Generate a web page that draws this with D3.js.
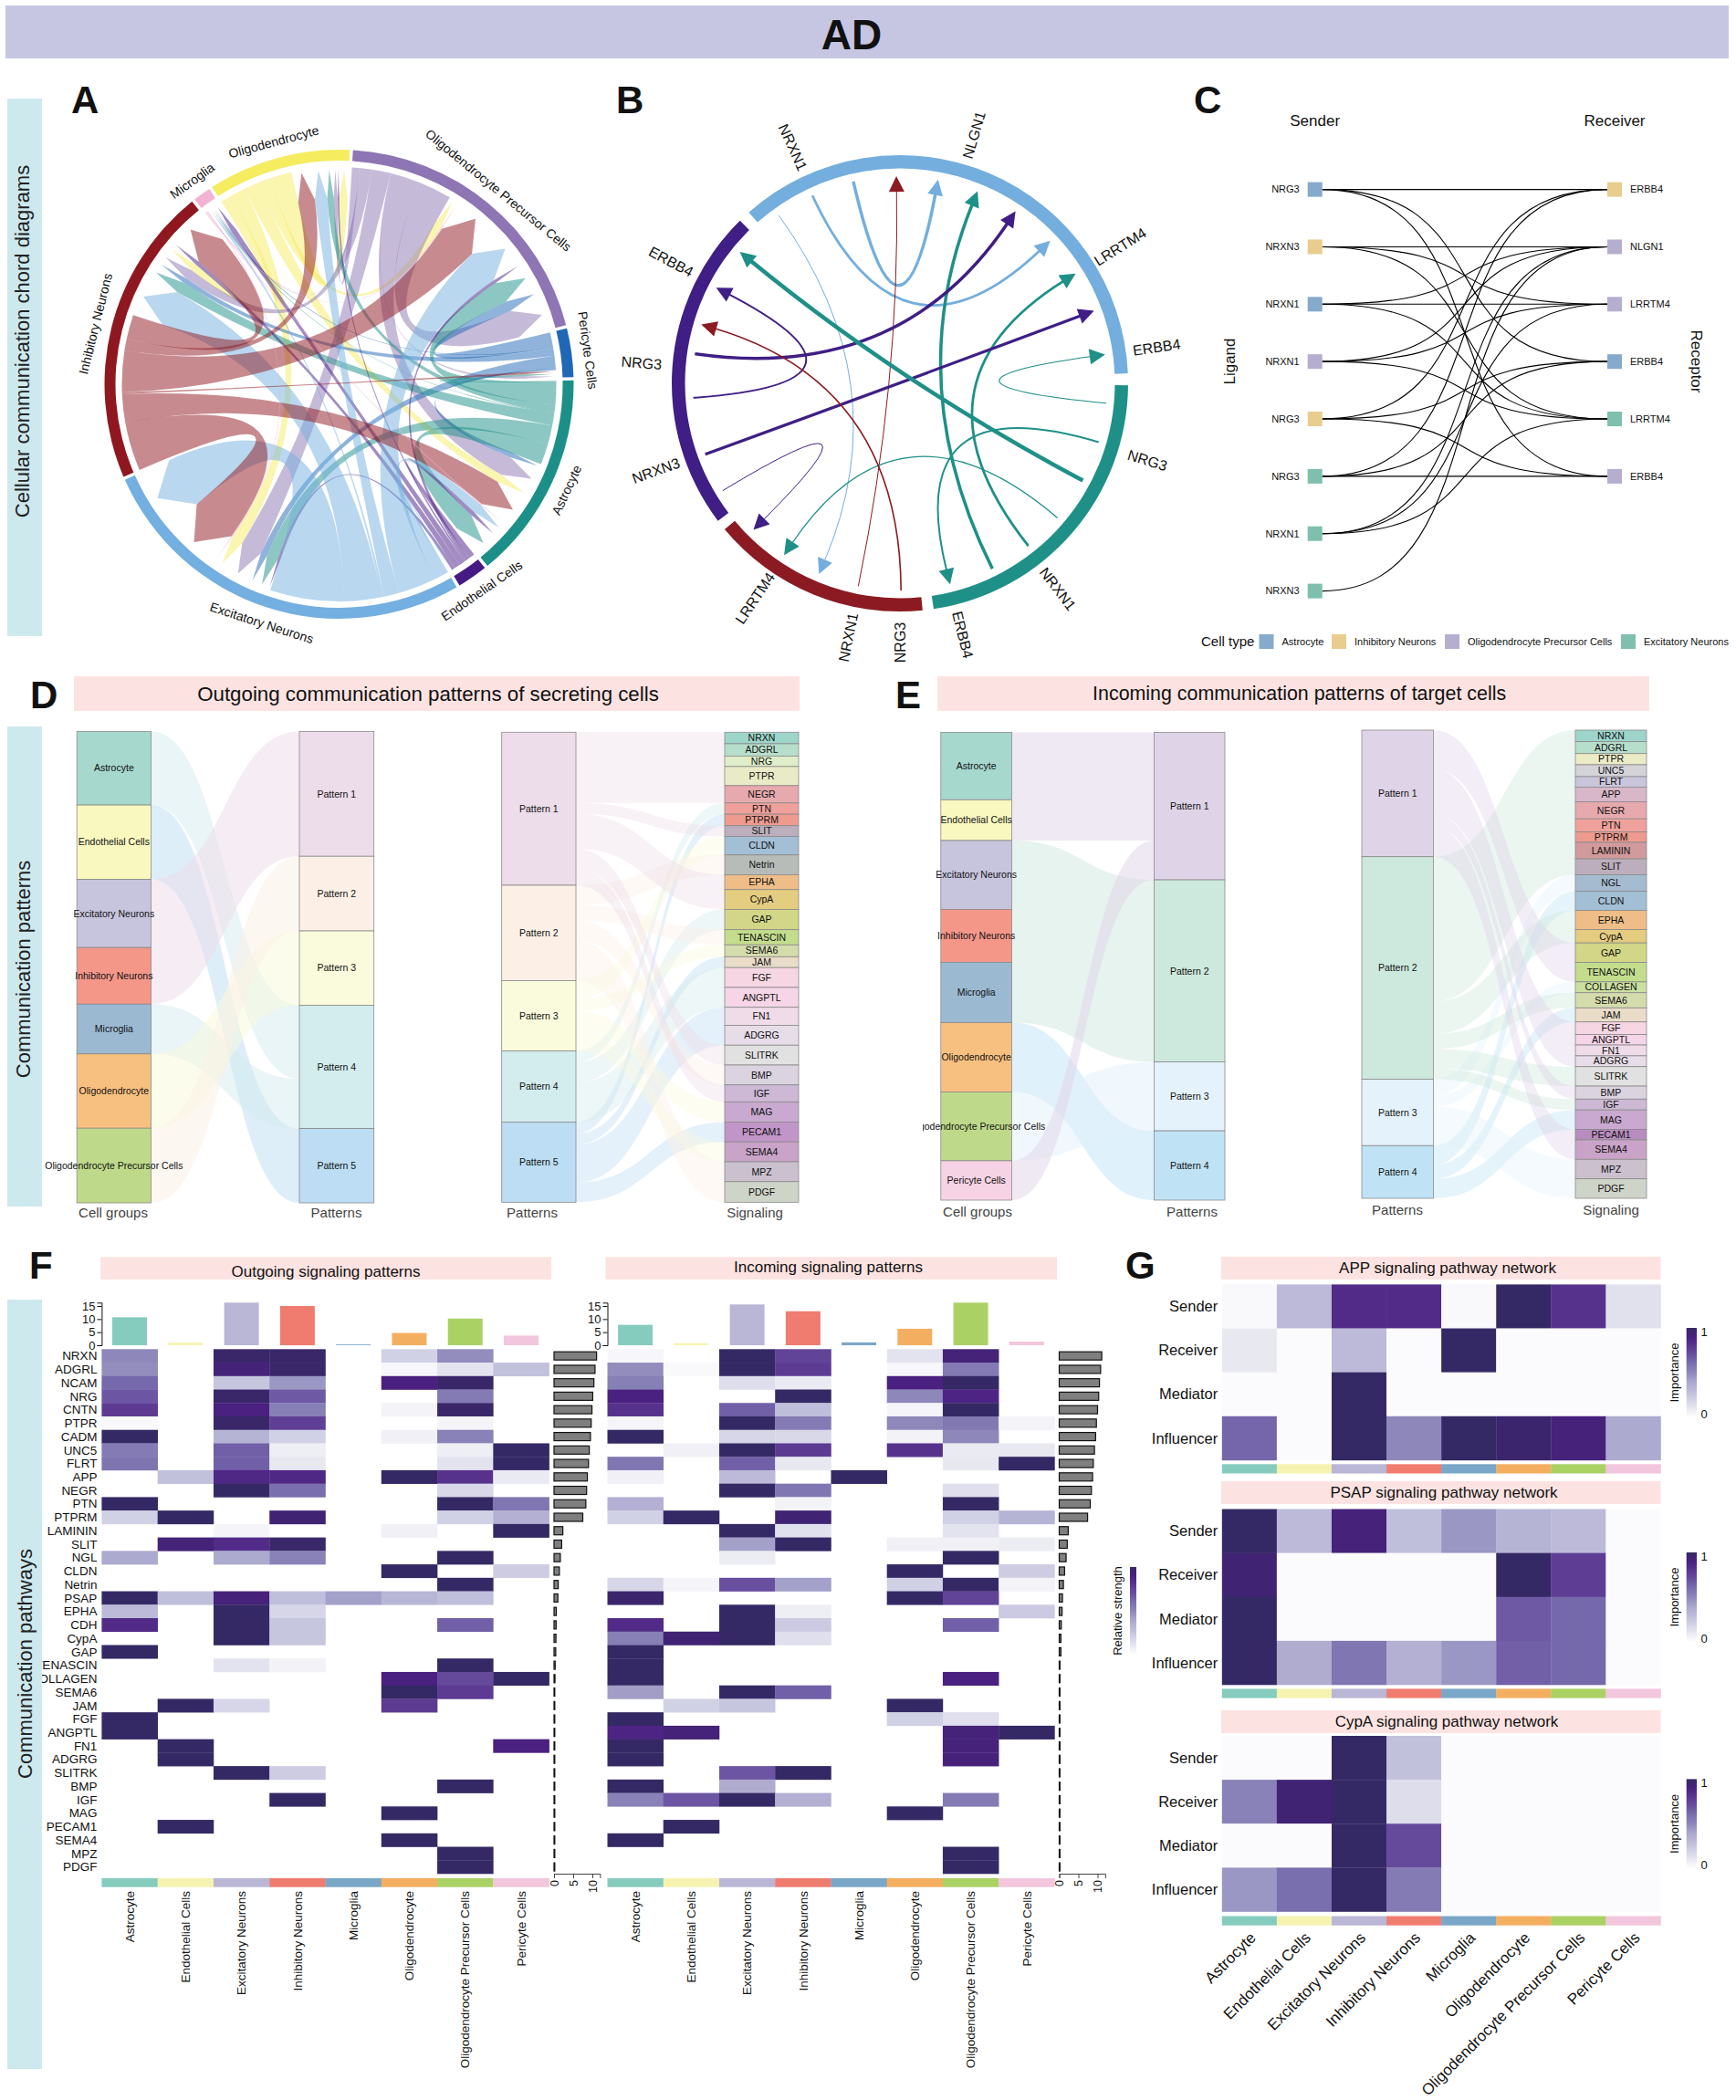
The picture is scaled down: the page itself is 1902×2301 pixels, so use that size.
<!DOCTYPE html>
<html><head><meta charset="utf-8">
<script src="https://cdn.jsdelivr.net/npm/d3@7/dist/d3.min.js"></script>
<style>
html,body{margin:0;padding:0;background:#fff}
svg{display:block}
text{font-family:"Liberation Sans",Arial,sans-serif;fill:#111}
</style></head><body>
<svg id="c" width="1902" height="2301" viewBox="0 0 1902 2301"></svg>
<script>
/* ---------- DATA ---------- */
const cellTypes=["Astrocyte","Endothelial Cells","Excitatory Neurons","Inhibitory Neurons","Microglia","Oligodendrocyte","Oligodendrocyte Precursor Cells","Pericyte Cells"];
const cellStrip=["#85ccbe","#f6f3b0","#b9b6d6","#ef7c6e","#7aa7c8","#f4ae60","#aad164","#f2c6dc"];

// Panel A: chord sectors (clockwise from OPC), and links [from,to,sent,received]
const aSectors=["P","C","A","N","E","I","M","O"];
const aNames={P:"Oligodendrocyte Precursor Cells",C:"Pericyte Cells",A:"Astrocyte",N:"Endothelial Cells",E:"Excitatory Neurons",I:"Inhibitory Neurons",M:"Microglia",O:"Oligodendrocyte"};
const aColors={P:"#8e75b3",C:"#2068b5",A:"#1c9088",N:"#451a85",E:"#73afe0",I:"#8f1820",M:"#f2b3d3",O:"#f5ec60"};
const aLinks=[
["O","I",3,2.2],["O","E",4,3.5],["O","A",4,2.5],["O","P",3,2.4],["O","O",6,2.5],
["P","O",2,1.2],["P","M",.3,.3],["P","I",3,3],["P","E",5,6.5],["P","C",.2,.7],["P","A",7.6,6],["P","P",9,8.5],
["C","P",4,3.2],["C","M",.2,.3],["C","I",2,1.5],["C","E",3.2,2],["C","A",.6,1.5],
["A","C",.3,.6],["A","P",6,6.5],["A","O",2,2],["A","M",.2,.3],["A","I",3.4,3.5],["A","E",5,3.5],["A","A",5.5,6],
["N","A",1.6,1.3],["N","P",1,1],["N","O",.5,.5],["N","M",1.6,1.6],["N","I",1.6,1.2],["N","E",.8,.8],
["E","N",.5,.4],["E","A",3.5,3],["E","P",10,10.5],["E","O",4,3.8],["E","M",.6,.6],["E","I",10,11],["E","E",19.7,16],
["I","E",13,14.5],["I","A",7.5,8.3],["I","C",.5,.7],["I","P",11,12],["I","O",3,5.2],["I","I",6.6,10],
["M","P",.3,.4],["M","A",.3,.4],["M","E",.3,.4],["M","I",.4,.8]];
const aIncomingOrder={O:["I","E","A","P","N","O"],P:["O","M","I","E","N","A","C","P"],C:["I","A","P"],A:["C","P","O","I","M","E","N","A"],N:["E"],E:["N","A","C","P","O","M","I","E"],I:["E","A","C","P","O","N","I"],M:["E","A","C","P","N"]};

// Panel B
const bSectors=[[-41.5,87.5,"#73aede"],[90.5,171.5,"#1e9088"],[174.3,230.2,"#8c1a22"],[232.9,315.5,"#3f1e85"]];
const bLabels=[["NRXN1",335.6],["NLGN1",16.6],["LRRTM4",58.2],["ERBB4",82],["NRG3",107.3],["NRXN1",142.5],["ERBB4",166],["NRG3",180],["NRXN1",191.5],["LRRTM4",214],["NRXN3",250.3],["NRG3",274.5],["ERBB4",298]];
const bFrom=[-35.8,-25,-13,191.6,153.5,278.2,141.7,250,95.5,118,106.5,130.5,266,179.7,238.8];
const bTo=[203,46.5,10.6,-1,22,33.9,58,69.5,82,309.4,166,214,297.5,286.5,225];
const bStrength=[1,2.8,3.5,1,3.5,3.5,2.8,3.2,1.2,4.5,2,1.3,2,1.6,1];
const bColorIdx=[0,0,0,2,1,3,1,3,1,1,1,1,3,2,3];

// Panel C
const cLigands=[["NRG3","Astrocyte"],["NRXN3","Inhibitory Neurons"],["NRXN1","Astrocyte"],["NRXN1","Oligodendrocyte Precursor Cells"],["NRG3","Inhibitory Neurons"],["NRG3","Excitatory Neurons"],["NRXN1","Excitatory Neurons"],["NRXN3","Excitatory Neurons"]];
const cReceptors=[["ERBB4","Inhibitory Neurons"],["NLGN1","Oligodendrocyte Precursor Cells"],["LRRTM4","Oligodendrocyte Precursor Cells"],["ERBB4","Astrocyte"],["LRRTM4","Excitatory Neurons"],["ERBB4","Oligodendrocyte Precursor Cells"]];
const cPairs=[[0,0],[0,3],[0,5],[1,1],[1,2],[1,4],[2,1],[2,2],[2,4],[3,1],[3,2],[3,4],[4,0],[4,3],[4,5],[5,0],[5,3],[5,5],[6,1],[6,2],[6,4],[7,1]];
const cLegend=["Astrocyte","Inhibitory Neurons","Oligodendrocyte Precursor Cells","Excitatory Neurons"];
const cLegendColors=["#86aacb","#e8cd8f","#b6aecf","#7fbfae"];

// Panels D / E
const dCells=["Astrocyte","Endothelial Cells","Excitatory Neurons","Inhibitory Neurons","Microglia","Oligodendrocyte","Oligodendrocyte Precursor Cells"];
const dCellValues=[204,206,189,157,138,206,207];
const dCellPattern=[4,5,1,1,4,3,2];
const dCellColors=["#a6d8ce","#f9f8bf","#c7c4dd","#f49789","#9bbad2","#f8c080","#bfd98a"];
const dPatternColors=["#eddce9","#fcf0e6","#fafadc","#d3ecee","#bcddf3"];
const dSignals=["NRXN","ADGRL","NRG","PTPR","NEGR","PTN","PTPRM","SLIT","CLDN","Netrin","EPHA","CypA","GAP","TENASCIN","SEMA6","JAM","FGF","ANGPTL","FN1","ADGRG","SLITRK","BMP","IGF","MAG","PECAM1","SEMA4","MPZ","PDGF"];
const dSignalValues=[32,34,29,53,48,31,32,30,51,55,41,55,56,42,33,30,55,55,50,55,55,55,47,56,55,55,55,57];
const dSignalPattern=[1,1,1,1,1,4,5,1,3,2,1,1,4,2,3,5,4,4,5,5,1,2,1,3,5,3,2,2];
const dSignalColors=["#9ed5cb","#b6dfcb","#dfeec9","#e9ebc6","#e6a9ad","#f0a19c","#ee9a8e","#bcaebd","#a3bfd5","#b7bcb8","#efbe88","#e4cc80","#d2d686","#c3dd8d","#d5dcac","#e9dcc8","#f6d6e2","#f5d5e7","#f0dbe8","#e7dde8","#e1e1e1","#dcd3e0","#cdb9d5","#c9a9cf","#c195c8","#c9a3c8","#cbc0ce","#cfd4c8"];
const eCells=cellTypes;
const eCellValues=[187,113,191,147,167,192,191,109];
const eCellPattern=[1,1,2,2,2,4,3,1];
const eCellColors=["#a6d8ce","#f9f8bf","#c7c4dd","#f49789","#9bbad2","#f8c080","#bfd98a","#f6d3e4"];
const ePatternColors=["#dfd3e8","#cde8dd","#e4f2fb","#bfe3f5"];
const eSignals=["NRXN","ADGRL","PTPR","UNC5","FLRT","APP","NEGR","PTN","PTPRM","LAMININ","SLIT","NGL","CLDN","EPHA","CypA","GAP","TENASCIN","COLLAGEN","SEMA6","JAM","FGF","ANGPTL","FN1","ADGRG","SLITRK","BMP","IGF","MAG","PECAM1","SEMA4","MPZ","PDGF"];
const eSignalValues=[32,33,31,33,29,41,47,36,29,46,44,46,53,53,37,54,54,30,42,39,35,29,30,30,54,36,30,54,29,54,54,54];
const eSignalPattern=[2,2,2,2,2,2,2,2,2,2,2,3,4,2,2,1,1,3,2,4,1,1,1,1,2,1,2,4,1,1,3,3];
const eSignalColors=["#9ed5cb","#b6dfcb","#ebebc6","#d3d3d8","#c9c6dc","#d8b7c8","#e6a9ad","#f0a19c","#ee9a8e","#d19a9c","#bcaebd","#a5bbd0","#a3bfd5","#efbe88","#e4cc80","#d2d686","#c3dd8d","#cbe0a0","#d5dcac","#e9dcc8","#f6d6e2","#f5d5e7","#f0dbe8","#e7dde8","#e1e1e1","#dcd3e0","#cdb9d5","#c9a9cf","#b98cc0","#c9a3c8","#cbc0ce","#cfd4c8"];

// Panel F
const fPathways=["NRXN","ADGRL","NCAM","NRG","CNTN","PTPR","CADM","UNC5","FLRT","APP","NEGR","PTN","PTPRM","LAMININ","SLIT","NGL","CLDN","Netrin","PSAP","EPHA","CDH","CypA","GAP","TENASCIN","COLLAGEN","SEMA6","JAM","FGF","ANGPTL","FN1","ADGRG","SLITRK","BMP","IGF","MAG","PECAM1","SEMA4","MPZ","PDGF"];
const fOutgoing=[
[.5,0,.98,.98,0,.2,.48,0],[.48,0,.93,.98,0,.02,.12,.27],[.62,0,.25,.45,0,.9,.98,0],[.68,0,.98,.67,0,0,.55,0],[.78,0,.9,.53,0,.04,.98,0],
[.01,0,.98,.76,0,0,.03,0],[1,0,.33,.2,0,.06,.52,0],[.55,0,.65,.07,0,0,.07,1],[.58,0,.65,.1,0,0,.12,1],[0,.27,.87,.87,0,1,.82,.09],
[0,0,1,.6,0,0,.17,0],[1,0,0,0,0,0,1,.57],[.2,1,0,.95,0,0,.2,.35],[0,0,.03,0,0,.06,0,1],[0,.93,.85,.98,0,0,0,0],
[.38,0,.38,.52,0,0,1,0],[0,0,0,0,0,1,0,.22],[0,0,0,0,0,0,1,0],[1,.28,.92,.28,.42,.32,.28,0],[.3,0,1,.18,0,0,0,0],
[.85,0,1,.25,0,0,.65,0],[0,0,1,.25,0,0,0,0],[1,0,0,0,0,0,0,0],[0,0,.12,.05,0,0,1,0],[0,0,0,0,0,.9,.72,1],
[0,0,0,0,0,1,.78,0],[0,1,.18,0,0,.78,0,0],[1,0,0,0,0,0,0,0],[1,0,0,0,0,0,0,0],[0,1,0,0,0,0,0,.9],
[0,1,0,0,0,0,0,0],[0,0,1,.22,0,0,0,0],[0,0,0,0,0,0,1,0],[0,0,0,1,0,0,0,0],[0,0,0,0,0,1,0,0],
[0,1,0,0,0,0,0,0],[0,0,0,0,0,1,0,0],[0,0,0,0,0,0,1,0],[0,0,0,0,0,0,1,0]];
const fIncoming=[
[.02,0,1,.75,0,.12,.93,0],[.48,.01,1,.78,0,.02,.55,0],[.53,0,.15,.09,0,.9,1,0],[.9,0,0,1,0,.5,.88,0],[.82,0,.65,.28,0,.03,1,0],
[.03,0,1,.55,0,.5,.56,.04],[1,0,.18,.17,0,.05,.5,0],[0,.06,1,.78,0,.82,.09,.1],[.57,0,.65,.1,0,0,.1,1],[.06,0,.3,0,1,0,0,0],
[0,0,1,.57,0,0,.14,0],[.35,0,0,.05,0,0,1,0],[.2,1,0,.95,0,0,.2,.33],[0,0,1,.13,0,0,.12,0],[0,0,.42,1,0,.06,.06,.08],
[0,0,.08,0,0,0,1,0],[0,0,0,0,0,1,0,.22],[.18,.03,.7,.42,0,.2,1,.04],[.97,0,0,0,0,1,.75,0],[0,0,1,.07,0,0,0,.23],
[.85,0,1,.23,0,0,.65,0],[.53,.95,1,.14,0,0,0,0],[1,0,0,0,0,0,0,0],[1,0,0,0,0,0,0,0],[1,0,0,0,0,0,.9,0],
[.43,0,1,.65,0,0,0,0],[0,.2,.25,0,0,1,0,0],[1,0,0,0,0,.2,.14,0],[.88,.93,0,0,0,0,.93,1],[1,0,0,0,0,0,.92,0],
[1,0,0,0,0,0,.92,0],[0,0,.68,1,0,0,0,0],[1,0,.37,0,0,0,0,0],[.52,.68,1,.35,0,0,.55,0],[0,0,0,0,0,1,0,0],
[0,1,0,0,0,0,0,0],[1,0,0,0,0,0,0,0],[0,0,0,0,0,0,1,0],[0,0,0,0,0,0,1,0]];
const fOutTop=[10.7,1,16.3,15,.3,4.7,10.2,3.7];
const fInTop=[7.8,.8,15.6,13,1.1,6.3,16.3,1.4];
const fOutRight=[11.1,10.7,10.4,10.1,9.9,9.7,9.5,9.2,9,8.7,8.5,8.3,7.5,2.3,2,1.65,1.4,1.1,1,.6,.55,.5,.45,.3,.25,.2,.2,.2,.2,.2,.2,.2,.2,.2,.2,.2,.2,.2,.2];
const fInRight=[11.1,10.8,10.5,10.3,10,9.7,9.5,9.2,8.9,8.7,8.4,8.1,7.4,2.35,2.1,1.8,1.4,1.1,.85,.75,.55,.45,.45,.2,.2,.2,.2,.2,.2,.2,.2,.2,.2,.2,.2,.2,.2,.2,.2];

// Panel G
const gRoles=["Sender","Receiver","Mediator","Influencer"];
const gApp=[[.01,.3,.85,.85,.01,1,.82,.13],[.1,0,.3,0,1,0,0,0],[0,0,1,0,0,0,0,0],[.63,0,1,.5,1,.97,.92,.38]];
const gPsap=[[1,.3,.92,.28,.45,.33,.3,0],[.95,0,0,0,0,1,.77,0],[1,0,0,0,0,.67,.62,0],[1,.37,.57,.35,.45,.65,.62,0]];
const gCypa=[[0,0,1,.27,0,0,0,0],[.52,.95,1,.15,0,0,0,0],[0,0,1,.72,0,0,0,0],[.45,.6,1,.55,0,0,0,0]];

const heatStops=[0,.1,.2,.3,.4,.5,.6,.7,.8,.9,1];
const heatColors=["#fbfbfd","#e8e8f1","#d1d1e6","#bcbad8","#a9a6cd","#8d87ba","#7a6fae","#684f9f","#5a3690","#4a2080","#352965"];

/* ---------- HELPERS ---------- */
const svg=d3.select("#c");
const defs=svg.append("defs");
const heat=d3.scaleLinear().domain(heatStops).range(heatColors);
const rad=d=>(d-90)*Math.PI/180;
const pol=(r,d)=>[r*Math.cos(rad(d)),r*Math.sin(rad(d))];
function label(g,x,y,t,o={}){
  const e=g.append("text").attr("x",x).attr("y",y).text(t)
    .attr("font-size",o.size||12).attr("text-anchor",o.anchor||"middle");
  if(o.mid!==false) e.attr("dy",".35em");
  if(o.weight) e.attr("font-weight",o.weight);
  if(o.fill) e.style("fill",o.fill);
  if(o.rot!==undefined) e.attr("transform",`rotate(${o.rot} ${x} ${y})`);
  return e;
}
const ROOT=svg.append("g");

/* header */
ROOT.append("rect").attr("x",6).attr("y",6).attr("width",1888).attr("height",58).attr("fill","#c6c6e3");
label(ROOT,933,38,"AD",{size:46,weight:"bold"});
[["A",78,124],["B",675,124],["C",1308,124],["D",33,776],["E",981,776],["F",32,1401],["G",1233,1401]].forEach(d=>
  label(ROOT,d[1],d[2],d[0],{size:42,weight:"bold",anchor:"start",mid:false}));

/* ---------- Panel A ---------- */
(function(){
  const g=ROOT.append("g").attr("transform","translate(371.5,421)");
  const gap=.8;
  const out={},inc={};
  aSectors.forEach(s=>{out[s]=aLinks.filter(l=>l[0]===s);inc[s]=(aIncomingOrder[s]||[]).map(f=>aLinks.find(l=>l[0]===f&&l[1]===s)).filter(Boolean);});
  const sizes=aSectors.map(s=>d3.sum(out[s],l=>l[2])+d3.sum(inc[s],l=>l[3]));
  const total=d3.sum(sizes)+gap*aSectors.length;
  const ang=d3.scaleLinear().domain([0,total]).range([3.4,363.4]);
  let pos=0; const S=new Map(),T=new Map(),sect={};
  aSectors.forEach((s,i)=>{
    const a0=pos;
    out[s].forEach(l=>{S.set(l,[ang(pos),ang(pos+l[2])]);pos+=l[2];});
    inc[s].forEach(l=>{T.set(l,[ang(pos),ang(pos+l[3])]);pos+=l[3];});
    sect[s]=[ang(a0),ang(pos)];
    pos+=gap;
  });
  const Rs=238,Rc=204,Rt=235;
  aLinks.forEach(l=>{
    if(!T.has(l))return;
    const [a0,a1]=S.get(l),[b0,b1]=T.get(l);
    const p=d3.path();
    p.moveTo(...pol(Rs,a0));
    p.arc(0,0,Rs,rad(a0),rad(a1));
    p.quadraticCurveTo(0,0,...pol(Rc,b0));
    p.lineTo(...pol(Rt,(b0+b1)/2));
    p.lineTo(...pol(Rc,b1));
    p.quadraticCurveTo(0,0,...pol(Rs,a0));
    p.closePath();
    g.append("path").attr("d",p.toString()).attr("fill",aColors[l[0]]).attr("fill-opacity",.5);
  });
  const arc=d3.arc().innerRadius(245).outerRadius(257);
  aSectors.forEach((s,i)=>{
    const [a0,a1]=sect[s];
    g.append("path").attr("d",arc({startAngle:a0*Math.PI/180,endAngle:a1*Math.PI/180})).attr("fill",aColors[s]);
    const mid=(a0+a1)/2, m=((mid%360)+360)%360, top=m<90||m>270;
    const [x,y]=pol(275,mid);
    label(g,x,y,aNames[s],{size:14,rot:top?m:m-180});
  });
})();

/* ---------- Panel B ---------- */
(function(){
  const g=ROOT.append("g").attr("transform","translate(986,420)");
  const arc=d3.arc().innerRadius(235.5).outerRadius(250);
  bSectors.forEach(s=>g.append("path").attr("d",arc({startAngle:s[0]*Math.PI/180,endAngle:s[1]*Math.PI/180})).attr("fill",s[2]));
  bFrom.forEach((f,i)=>{
    const t=bTo[i],c=bSectors[bColorIdx[i]][2],Rb=227,hl=17,hw=8.5;
    const p=d3.path();
    p.moveTo(...pol(Rb,f));
    p.quadraticCurveTo(0,0,...pol(Rb-hl+2,t));
    g.append("path").attr("d",p.toString()).attr("fill","none").attr("stroke",c).attr("stroke-width",bStrength[i]);
    const tip=pol(Rb,t),bc=pol(Rb-hl,t),th=rad(t)+Math.PI/2;
    const h=d3.path();
    h.moveTo(...tip);
    h.lineTo(bc[0]+hw*Math.cos(th),bc[1]+hw*Math.sin(th));
    h.lineTo(bc[0]-hw*Math.cos(th),bc[1]-hw*Math.sin(th));
    h.closePath();
    g.append("path").attr("d",h.toString()).attr("fill",c);
  });
  bLabels.forEach(l=>{
    const [x,y]=pol(284,l[1]),m=((l[1]%360)+360)%360;
    const rot=(m>=180)?m-270:m-90;
    label(g,x,y,l[0],{size:16,rot:rot});
  });
})();

/* ---------- Panel C ---------- */
(function(){
  const g=ROOT.append("g");
  const y=d3.scaleLinear().domain([0,7]).range([207.6,647.6]);
  const xS=1440.7,xR=1769,sq=16;
  const col=d3.scaleOrdinal().domain(cLegend).range(cLegendColors);
  const sig=(x0,y0,x1,y1)=>{const p=d3.path(),w=x1-x0,c=.65;p.moveTo(x0,y0);p.bezierCurveTo(x0+c*w,y0,x1-c*w,y1,x1,y1);return p.toString();};
  cPairs.forEach(p=>g.append("path").attr("d",sig(xS+sq/2,y(p[0]),xR-sq/2,y(p[1]))).attr("fill","none").attr("stroke","#000").attr("stroke-width",1.1));
  cLigands.forEach((d,i)=>{
    g.append("rect").attr("x",xS-sq/2).attr("y",y(i)-sq/2).attr("width",sq).attr("height",sq).attr("fill",col(d[1]));
    label(g,xS-17,y(i),d[0],{size:11,anchor:"end"});
  });
  cReceptors.forEach((d,i)=>{
    g.append("rect").attr("x",xR-sq/2).attr("y",y(i)-sq/2).attr("width",sq).attr("height",sq).attr("fill",col(d[1]));
    label(g,xR+17,y(i),d[0],{size:11,anchor:"start"});
  });
  label(g,xS,132,"Sender",{size:17});label(g,xR,132,"Receiver",{size:17});
  label(g,1346.7,396,"Ligand",{size:17,rot:-90});label(g,1859,396,"Receptor",{size:17,rot:90});
  label(g,1316,703,"Cell type",{size:15,anchor:"start"});
  const legX=[1387.5,1467,1591,1784];
  cLegend.forEach((t,i)=>{
    g.append("rect").attr("x",legX[i]-8).attr("y",695).attr("width",16).attr("height",16).attr("fill",cLegendColors[i]);
    label(g,legX[i]+17,703,t,{size:11,anchor:"start"});
  });
})();

/* ---------- Panels D / E ---------- */
function ribbon(g,x0,y00,y01,x1,y10,y11,fill,op){
  const m=(x0+x1)/2,p=d3.path();
  p.moveTo(x0,y00);p.bezierCurveTo(m,y00,m,y10,x1,y10);
  p.lineTo(x1,y11);p.bezierCurveTo(m,y11,m,y01,x0,y01);p.closePath();
  g.append("path").attr("d",p.toString()).attr("fill",fill).attr("fill-opacity",op);
}
let clipN=0;
function alluvial(g,o){
  const nG=o.groupColors.length;
  const total=d3.sum(o.values);
  const yIt=d3.scaleLinear().domain([0,total]).range(o.itemY);
  const yGr=d3.scaleLinear().domain([0,total]).range(o.groupY);
  const grSum=d3.range(nG).map(k=>d3.sum(o.values.filter((v,i)=>o.groupOf[i]===k+1)));
  const grStart={};let c=0;d3.range(nG).forEach(k=>{grStart[k]=c;c+=grSum[k];});
  const cursor={...grStart};
  let a=0;const itPos=[];
  o.values.forEach(v=>{itPos.push([a,a+v]);a+=v;});
  o.values.forEach((v,i)=>{
    const k=o.groupOf[i]-1,b=cursor[k];cursor[k]+=v;
    const col=o.groupColors[k];
    if(o.itemSide==="left") ribbon(g,o.itemX[1],yIt(itPos[i][0]),yIt(itPos[i][1]),o.groupX[0],yGr(b),yGr(b+v),col,o.op);
    else ribbon(g,o.groupX[1],yGr(b),yGr(b+v),o.itemX[0],yIt(itPos[i][0]),yIt(itPos[i][1]),col,o.op);
  });
  o.values.forEach((v,i)=>{
    g.append("rect").attr("x",o.itemX[0]).attr("y",yIt(itPos[i][0])).attr("width",o.itemX[1]-o.itemX[0]).attr("height",yIt(itPos[i][1])-yIt(itPos[i][0]))
     .attr("fill",o.itemColors[i]).attr("stroke","#8a8a8a").attr("stroke-width",.8);
  });
  d3.range(nG).forEach(k=>{
    g.append("rect").attr("x",o.groupX[0]).attr("y",yGr(grStart[k])).attr("width",o.groupX[1]-o.groupX[0]).attr("height",yGr(grStart[k]+grSum[k])-yGr(grStart[k]))
     .attr("fill",o.groupColors[k]).attr("stroke","#8a8a8a").attr("stroke-width",.8);
    label(g,(o.groupX[0]+o.groupX[1])/2,yGr(grStart[k]+grSum[k]/2),"Pattern "+(k+1),{size:10.5});
  });
  let textG=g;
  if(o.clipLeft!==undefined){
    const id="clip"+(clipN++);
    defs.append("clipPath").attr("id",id).append("rect").attr("x",o.clipLeft).attr("y",0).attr("width",1902-o.clipLeft).attr("height",2301);
    textG=g.append("g").attr("clip-path",`url(#${id})`);
  }
  o.values.forEach((v,i)=>{
    label(textG,(o.itemX[0]+o.itemX[1])/2,(yIt(itPos[i][0])+yIt(itPos[i][1]))/2,o.items[i],{size:10.5});
  });
}
(function(){
  const g=ROOT.append("g");
  [[81,741,795,38],[1027,741,780,38]].forEach(b=>g.append("rect").attr("x",b[0]).attr("y",b[1]).attr("width",b[2]).attr("height",b[3]).attr("fill","#fce3e1"));
  label(g,469,760,"Outgoing communication patterns of secreting cells",{size:22.3});
  label(g,1423.6,760,"Incoming communication patterns of target cells",{size:21.4});
  alluvial(g,{items:dCells,values:dCellValues,groupOf:dCellPattern,itemColors:dCellColors,groupColors:dPatternColors,itemSide:"left",itemX:[84.2,165.5],groupX:[328,409.7],itemY:[801.5,1318],groupY:[801.5,1318],op:.5});
  alluvial(g,{items:dSignals,values:dSignalValues,groupOf:dSignalPattern,itemColors:dSignalColors,groupColors:dPatternColors,itemSide:"right",itemX:[794,875],groupX:[549.7,631],itemY:[802.3,1317.3],groupY:[802.3,1317.3],op:.4});
  alluvial(g,{items:eCells,values:eCellValues,groupOf:eCellPattern,itemColors:eCellColors,groupColors:ePatternColors,itemSide:"left",itemX:[1030.8,1108.5],groupX:[1264.5,1342],itemY:[802.4,1315],groupY:[802.4,1315],op:.5,clipLeft:1011});
  alluvial(g,{items:eSignals,values:eSignalValues,groupOf:eSignalPattern,itemColors:eSignalColors,groupColors:ePatternColors,itemSide:"right",itemX:[1726,1804],groupX:[1492,1570.5],itemY:[800,1313],groupY:[800,1313],op:.4});
  [["Cell groups",124,1329],["Patterns",368.5,1329],["Patterns",583,1329],["Signaling",827,1329],["Cell groups",1071,1328],["Patterns",1306,1328],["Patterns",1531,1326],["Signaling",1765,1326]]
    .forEach(d=>label(g,d[1],d[2],d[0],{size:15,fill:"#444"}));
})();

/* ---------- Panel F ---------- */
function heatPanel(o){
  const g=ROOT.append("g");
  const x=d3.scaleBand().domain(cellTypes).range(o.x);
  const y=d3.scaleBand().domain(fPathways).range([1478.3,2053]);
  o.matrix.forEach((row,r)=>row.forEach((v,c)=>{ if(v>0)
    g.append("rect").attr("x",x(cellTypes[c])).attr("y",y(fPathways[r])).attr("width",x.bandwidth()+.3).attr("height",y.bandwidth()+.3).attr("fill",heat(v));
  }));
  const yT=d3.scaleLinear().domain([0,16.3]).range([1474,1427.3]);
  o.top.forEach((v,c)=>g.append("rect").attr("x",x(cellTypes[c])+x.bandwidth()/2-19).attr("y",yT(v)).attr("width",38).attr("height",1474-yT(v)).attr("fill",cellStrip[c]));
  const ax=g.append("g").attr("transform",`translate(${o.x[0]},0)`).call(d3.axisLeft(yT).tickValues([0,5,10,15]).tickSize(5).tickPadding(2));
  ax.selectAll("text").attr("font-size",13).style("font-family","Liberation Sans");
  ax.selectAll("path,line").attr("stroke","#111");
  if(o.labels) fPathways.forEach(p=>label(g,o.x[0]-5,y(p)+y.bandwidth()/2,p,{size:13.5,anchor:"end"}));
  cellTypes.forEach((t,c)=>{
    g.append("rect").attr("x",x(t)).attr("y",2058).attr("width",x.bandwidth()+.3).attr("height",9.7).attr("fill",cellStrip[c]);
    label(g,x(t)+x.bandwidth()/2,2072,t,{size:13.5,anchor:"end",rot:-90});
  });
  const xR=d3.scaleLinear().domain([0,12]).range([o.rx,o.rx+50.4]);
  o.right.forEach((v,r)=>{
    const bh=9;
    g.append("rect").attr("x",xR(0)).attr("y",y(fPathways[r])+y.bandwidth()/2-bh/2).attr("width",xR(v)-xR(0)).attr("height",bh).attr("fill","#7f7f7f").attr("stroke","#111").attr("stroke-width",1.2);
  });
  const a2=g.append("g").attr("transform","translate(0,2053)").call(d3.axisBottom(xR).tickValues([0,5,10]).tickSize(5).tickPadding(3));
  a2.selectAll("path,line").attr("stroke","#444");
  a2.selectAll("text").attr("font-size",12.5).attr("text-anchor","end").attr("dy",".35em").attr("y",0).attr("x",-7).attr("transform","rotate(-90)").style("font-family","Liberation Sans");
}
(function(){
  const g=ROOT.append("g");
  [[110,494],[663.5,494.5]].forEach(b=>g.append("rect").attr("x",b[0]).attr("y",1377.3).attr("width",b[1]).attr("height",24.7).attr("fill","#fce3e1"));
  label(g,357,1393,"Outgoing signaling patterns",{size:17});
  label(g,907.5,1388,"Incoming signaling patterns",{size:17});
  heatPanel({x:[111.4,601.6],matrix:fOutgoing,top:fOutTop,right:fOutRight,rx:607,labels:true});
  heatPanel({x:[665.5,1155.4],matrix:fIncoming,top:fInTop,right:fInRight,rx:1160.5,labels:false});
})();

/* relative strength legend + importance legends */
function gradBar(id,x,y,w,h){
  const lg=defs.append("linearGradient").attr("id",id).attr("x1",0).attr("x2",0).attr("y1",1).attr("y2",0);
  heatStops.forEach((s,i)=>lg.append("stop").attr("offset",s).attr("stop-color",i==0?"#ffffff":heatColors[i]));
  ROOT.append("rect").attr("x",x).attr("y",y).attr("width",w).attr("height",h).attr("fill",`url(#${id})`);
}
gradBar("gradRS",1238,1717,7,96);
label(ROOT,1224.6,1765,"Relative strength",{size:13,rot:-90});

/* ---------- Panel G ---------- */
function gPanel(title,titleX,m,top,stripY,bannerY,legendY){
  const g=ROOT.append("g");
  g.append("rect").attr("x",1338).attr("y",bannerY).attr("width",481.5).attr("height",25).attr("fill","#fce3e1");
  label(g,titleX,bannerY+12,title,{size:17});
  const x=d3.scaleBand().domain(cellTypes).range([1338.8,1819.5]);
  const y=d3.scaleBand().domain(gRoles).range([top,top+192.5]);
  m.forEach((row,r)=>row.forEach((v,c)=>g.append("rect").attr("x",x(cellTypes[c])).attr("y",y(gRoles[r])).attr("width",x.bandwidth()+.3).attr("height",y.bandwidth()+.3).attr("fill",heat(v))));
  gRoles.forEach(t=>label(g,1334.3,y(t)+y.bandwidth()/2,t,{size:16.5,anchor:"end"}));
  cellTypes.forEach((t,c)=>g.append("rect").attr("x",x(t)).attr("y",stripY).attr("width",x.bandwidth()+.3).attr("height",10.2).attr("fill",cellStrip[c]));
  gradBar("grad"+title.slice(0,3),1847.7,legendY,11.3,98);
  label(g,1867,legendY+4,"1",{size:13});
  label(g,1867,legendY+94,"0",{size:13});
  label(g,1834.7,legendY+49,"Importance",{size:13,rot:-90});
  return x;
}
gPanel("APP signaling pathway network",1586,gApp,1407.4,1604.3,1377,1455);
gPanel("PSAP signaling pathway network",1582,gPsap,1653.5,1850.4,1623,1701);
const gx=gPanel("CypA signaling pathway network",1585,gCypa,1902,2099.5,1874,1949.4);
cellTypes.forEach(t=>label(ROOT,gx(t)+gx.bandwidth()/2+4,2120,t,{size:17,anchor:"end",rot:-45}));

/* ---------- side strips (drawn above the row labels they overlap) ---------- */
[[108,589,"Cellular communication chord diagrams",374,24],[796,526,"Communication patterns",1062,25],[1424,843,"Communication pathways",1823,27]].forEach(d=>{
  ROOT.append("rect").attr("x",8).attr("y",d[0]).attr("width",38).attr("height",d[1]).attr("fill","#cde9ee");
  label(ROOT,d[4],d[3],d[2],{size:22,rot:-90,fill:"#222"});
});
</script>
</body></html>
